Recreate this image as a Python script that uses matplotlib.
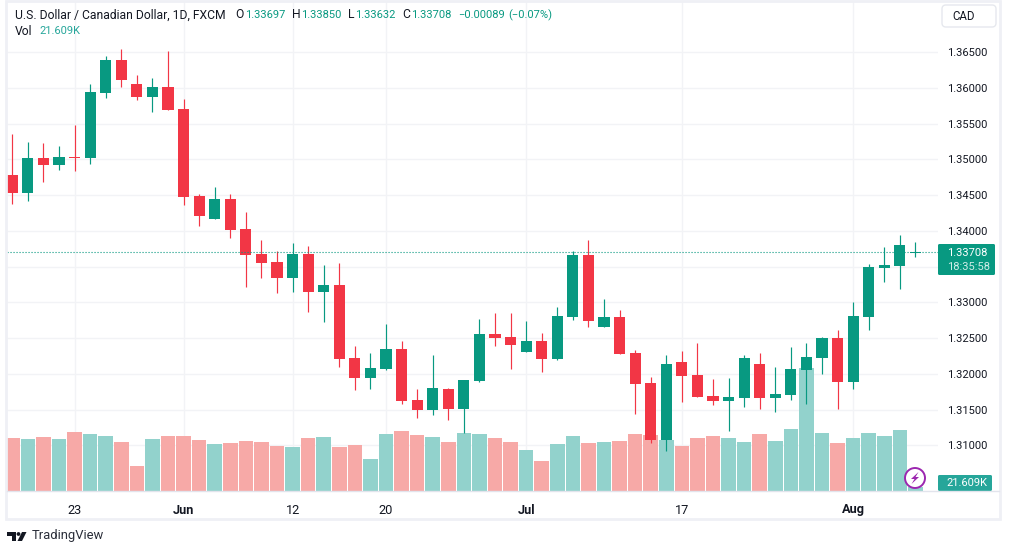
import matplotlib
matplotlib.use("Agg")
import matplotlib.pyplot as plt
from matplotlib.patches import Rectangle, FancyBboxPatch, Circle, Polygon
import numpy as np

W, H = 1009, 553
plt.rcParams['font.family'] = ['Roboto', 'DejaVu Sans']

# index-aligned daily data
opens = [1.34783, 1.34535, 1.35021, 1.34923, 1.35039, 1.35021, 1.35931, 1.36392, 1.36057, 1.35875,
         1.36015, 1.35707, 1.34489, 1.34167, 1.34447, 1.34027, 1.33678, 1.33566, 1.33342, 1.33678,
         1.33146, 1.33244, 1.32222, 1.31942, 1.32068, 1.32348, 1.31634, 1.31494, 1.31788, 1.31509,
         1.31900, 1.32558, 1.32516, 1.32306, 1.32460, 1.32208, 1.32796, 1.33664, 1.32656, 1.32796,
         1.32292, 1.31872, 1.31075, 1.32166, 1.31984, 1.31690, 1.31620, 1.31662, 1.32138, 1.31662,
         1.31704, 1.32054, 1.32222, 1.32502, 1.31886, 1.32796, 1.33482, 1.33510, 1.33697]
highs = [1.35357, 1.35245, 1.35231, 1.35189, 1.35483, 1.36057, 1.36448, 1.36546, 1.36182, 1.36141,
         1.36518, 1.35847, 1.34517, 1.34615, 1.34517, 1.34265, 1.33873, 1.33719, 1.33831, 1.33790,
         1.33524, 1.33552, 1.32390, 1.32292, 1.32698, 1.32460, 1.31788, 1.32264, 1.31802, 1.31914,
         1.32768, 1.32852, 1.32852, 1.32740, 1.32572, 1.32936, 1.33719, 1.33873, 1.33048, 1.32894,
         1.32334, 1.31956, 1.32264, 1.32320, 1.32432, 1.31928, 1.31942, 1.32264, 1.32292, 1.32096,
         1.32376, 1.32432, 1.32516, 1.32614, 1.33006, 1.33538, 1.33776, 1.33943, 1.33850]
lows = [1.34377, 1.34419, 1.34685, 1.34853, 1.34839, 1.34937, 1.35861, 1.36015, 1.35833, 1.35665,
        1.35693, 1.34363, 1.34069, 1.34167, 1.33901, 1.33216, 1.33342, 1.33132, 1.33146, 1.32866,
        1.32726, 1.32096, 1.31774, 1.31788, 1.32054, 1.31578, 1.31383, 1.31425, 1.31355, 1.31173,
        1.31886, 1.32390, 1.32068, 1.32306, 1.32026, 1.32194, 1.32754, 1.32656, 1.32656, 1.32278,
        1.31439, 1.31033, 1.30921, 1.31606, 1.31676, 1.31564, 1.31201, 1.31536, 1.31509, 1.31466,
        1.31634, 1.31578, 1.31998, 1.31509, 1.31788, 1.32614, 1.33286, 1.33188, 1.33632]
closes = [1.34535, 1.35021, 1.34923, 1.35035, 1.35025, 1.35945, 1.36392, 1.36112, 1.35875, 1.36015,
          1.35693, 1.34475, 1.34209, 1.34447, 1.34013, 1.33664, 1.33552, 1.33342, 1.33678, 1.33146,
          1.33244, 1.32208, 1.31942, 1.32082, 1.32348, 1.31620, 1.31494, 1.31802, 1.31509, 1.31914,
          1.32558, 1.32502, 1.32404, 1.32460, 1.32208, 1.32810, 1.33664, 1.32740, 1.32796, 1.32278,
          1.31858, 1.31075, 1.32138, 1.31970, 1.31676, 1.31620, 1.31676, 1.32222, 1.31662, 1.31718,
          1.32068, 1.32236, 1.32502, 1.31886, 1.32810, 1.33496, 1.33524, 1.33804, 1.33708]
volumes_k = [327, 321, 333, 321, 364, 352, 339, 302, 154, 321, 339, 339, 315, 290, 296, 309, 302, 278, 271, 327,
             333, 271, 284, 197, 352, 370, 346, 333, 302, 358, 352, 327, 302, 253, 185, 290, 339, 296, 302, 309,
             352, 346, 315, 278, 327, 339, 327, 302, 352, 309, 383, 759, 358, 296, 327, 358, 339, 376, 21.609]

time_tick_index = [4, 11, 18, 24, 33, 43, 54]
time_tick_labels = ['23', 'Jun', '12', '20', 'Jul', '17', 'Aug']
price_ticks = [1.31, 1.315, 1.32, 1.325, 1.33, 1.335, 1.34, 1.345, 1.35, 1.355, 1.36, 1.365]
hidden_price_tick = 1.335
last_price = 1.33708
title = 'U.S. Dollar / Canadian Dollar, 1D, FXCM'

UP, DOWN = '#089981', '#F23645'
VOL_UP, VOL_DOWN = '#92D2CC', '#F7A9A7'
GRID = '#F2F3F6'
INK = '#131722'
FRAME = '#EFF0F5'

fig = plt.figure(figsize=(W / 100, H / 100), dpi=100, facecolor='white')
L, R, T, B = 7, 938, 1, 491
rect = [L / W, 1 - B / H, (R - L) / W, (B - T) / H]

# volume pane (behind)
axv = fig.add_axes(rect, zorder=1)
# price pane (on top, transparent)
ax = fig.add_axes(rect, zorder=2, facecolor='none')

x = np.arange(len(opens))
xlim = (-0.34, 59.45)
ax.set_xlim(xlim)
axv.set_xlim(xlim)
ax.set_ylim(1.37232 - 0.00013994 * B, 1.37232 - 0.00013994 * T)
axv.set_ylim(0, 3023)

o, h, l, c = map(np.array, (opens, highs, lows, closes))
up = c >= o
candle_col = [UP if u else DOWN for u in up]
vol_col = [VOL_UP if u else VOL_DOWN for u in up]

axv.set_facecolor('white')
axv.bar(x, volumes_k, width=0.93, color=vol_col, linewidth=0, zorder=3)
axv.set_xticks([])
axv.set_yticks([])
for s in axv.spines.values():
    s.set_visible(False)

# grid
for p in price_ticks:
    axv.axhline((p - ax.get_ylim()[0]) / (ax.get_ylim()[1] - ax.get_ylim()[0]) * 3023,
                color=GRID, lw=1.0, zorder=1)
for i in time_tick_index:
    axv.axvline(i, color=GRID, lw=1.0, zorder=1)

# candles
ax.vlines(x, l, h, colors=candle_col, lw=0.85, zorder=3)
ax.bar(x, np.abs(c - o), bottom=np.minimum(o, c), width=0.71, color=candle_col, linewidth=0, zorder=4)
ax.axhline(last_price, color=UP, lw=0.8, ls=(0, (1, 1.7)), zorder=5)

# axes labels
ax.yaxis.tick_right()
ax.set_yticks(price_ticks)
ax.set_yticklabels(['' if p == hidden_price_tick else f'{p:.5f}' for p in price_ticks],
                   fontsize=8, color=INK)
ax.tick_params(axis='y', length=0, pad=6.3)
ax.set_xticks(time_tick_index)
ax.set_xticklabels(time_tick_labels, fontsize=9.2, color=INK)
for lab in ax.get_xticklabels():
    if lab.get_text() in ('Jun', 'Jul', 'Aug'):
        lab.set_fontweight('bold')
ax.tick_params(axis='x', length=0, pad=9)
for s in ax.spines.values():
    s.set_visible(False)

# overlay in pixel coordinates for chrome
ov = fig.add_axes([0, 0, 1, 1], zorder=5, facecolor='none')
ov.set_xlim(0, W)
ov.set_ylim(H, 0)
ov.axis('off')

# frame
ov.add_patch(Rectangle((6, 0.5), 994, 518, fill=False, ec=FRAME, lw=2))
ov.plot([7, 999], [491, 491], color='#E2E4EC', lw=1)


def txt(px, py, s, color=INK, size=9.2, **kw):
    ov.text(px, py, s, color=color, fontsize=size, va='center', ha=kw.pop('ha', 'left'), **kw)


# header
txt(15, 15, title, size=8.7)
TEAL = '#089981'
for px, s, col, sz in [(235, 'O', INK, 8.7), (245, '1.33697', TEAL, 8), (292, 'H', INK, 8.7),
                       (301, '1.33850', TEAL, 8), (348, 'L', INK, 8.7), (355, '1.33632', TEAL, 8),
                       (402, 'C', INK, 8.7), (411, '1.33708', TEAL, 8),
                       (458, '\u22120.00089', TEAL, 8), (508, '(\u22120.07%)', TEAL, 8)]:
    txt(px, 15, s, color=col, size=sz)
txt(15, 31.5, 'Vol', size=8.7)
txt(39, 31.5, '21.609K', color='#26A69A', size=8)

# currency button
ov.add_patch(FancyBboxPatch((942, 5), 54, 22, boxstyle='round,pad=0,rounding_size=4',
                            fc='white', ec='#E6E8EE', lw=1))
txt(952, 16.5, 'CAD', size=8.3)

# last-price label
ov.add_patch(FancyBboxPatch((938, 244), 57, 31, boxstyle='round,pad=0,rounding_size=1.5',
                            fc=UP, ec='none'))
txt(947, 253, f'{last_price:.5f}', color='white', size=8)
txt(947, 267, '18:35:58', color='#D0ECE8', size=8)

# volume label
ov.add_patch(FancyBboxPatch((938, 475), 54, 16, boxstyle='round,pad=0,rounding_size=1.5',
                            fc='#26A69A', ec='none'))
txt(946, 483.5, '21.609K', color='white', size=8)

# lightning badge
ov.add_patch(Circle((915, 478), 10, fc='white', ec='#9C27B0', lw=1.4))
ov.add_patch(Polygon([(918.5, 472), (911, 479), (914.5, 479), (911.5, 484), (919, 477), (915.5, 477)],
                     closed=True, fc='#9C27B0', ec='none'))

# brand
ov.add_patch(Polygon([(7, 532), (16, 532), (16, 541), (11.5, 541), (11.5, 535.5), (7, 535.5)],
                     closed=True, fc=INK, ec='none'))
ov.add_patch(Circle((18.5, 534), 1.9, fc=INK, ec='none'))
ov.add_patch(Polygon([(22, 532), (26.5, 532), (22, 541), (17.5, 541)], closed=True, fc=INK, ec='none'))
txt(31.5, 536, 'TradingView', size=9.4, color='#2A2E39')

fig.savefig('out.png', dpi=100)
